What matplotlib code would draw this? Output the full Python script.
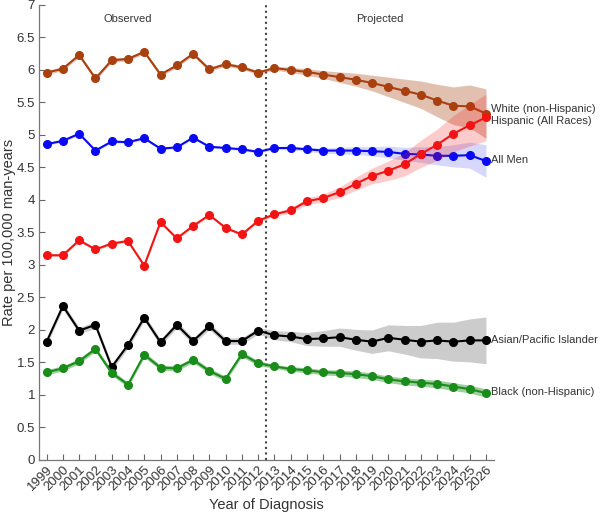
import numpy as np
from matplotlib import pyplot as plt

# Years of diagnosis (1999-2012 observed, 2013-2026 projected)
years = list(range(1999, 2027))

# Rates per 100,000 man-years
white = [5.96, 6.02, 6.23, 5.87, 6.15, 6.17, 6.28, 5.93, 6.07, 6.25, 6.01, 6.09, 6.04, 5.96,
         6.03, 6.00, 5.97, 5.93, 5.89, 5.85, 5.80, 5.74, 5.68, 5.62, 5.53, 5.45, 5.44, 5.33]
all_men = [4.86, 4.91, 5.02, 4.76, 4.90, 4.89, 4.95, 4.79, 4.81, 4.96, 4.82, 4.80, 4.78, 4.74,
           4.80, 4.80, 4.78, 4.76, 4.76, 4.76, 4.75, 4.74, 4.71, 4.70, 4.68, 4.68, 4.69, 4.60]
hispanic = [3.15, 3.15, 3.38, 3.24, 3.33, 3.37, 2.99, 3.66, 3.41, 3.60, 3.77, 3.57, 3.47, 3.68,
            3.78, 3.84, 3.98, 4.03, 4.12, 4.25, 4.37, 4.45, 4.55, 4.71, 4.85, 5.02, 5.15, 5.27]
asian = [1.82, 2.37, 1.99, 2.08, 1.43, 1.77, 2.19, 1.81, 2.08, 1.83, 2.06, 1.83, 1.83, 1.99,
         1.92, 1.90, 1.86, 1.87, 1.89, 1.85, 1.82, 1.88, 1.85, 1.82, 1.84, 1.82, 1.84, 1.84]
black = [1.35, 1.41, 1.52, 1.71, 1.34, 1.16, 1.62, 1.42, 1.41, 1.54, 1.37, 1.25, 1.63, 1.49,
         1.44, 1.40, 1.38, 1.35, 1.34, 1.32, 1.29, 1.24, 1.21, 1.19, 1.17, 1.13, 1.09, 1.03]

# Half-widths of the shaded bands
white_hw = [0.03] * 14 + [0.03, 0.04, 0.05, 0.06, 0.08, 0.10, 0.12, 0.15, 0.18, 0.21, 0.25, 0.29, 0.33, 0.38]
men_hw = [0.02] * 14 + [0.02, 0.03, 0.03, 0.04, 0.05, 0.06, 0.07, 0.09, 0.10, 0.12, 0.14, 0.17, 0.20, 0.25]
hisp_hw = [0.02] * 14 + [0.03, 0.04, 0.05, 0.06, 0.08, 0.10, 0.12, 0.15, 0.18, 0.21, 0.24, 0.28, 0.32, 0.36]
asian_hw = [0.05] * 14 + [0.07, 0.08, 0.10, 0.12, 0.14, 0.16, 0.18, 0.20, 0.22, 0.25, 0.28, 0.30, 0.33, 0.36]
black_hw = [0.04] * 14 + [0.03, 0.035, 0.04, 0.04, 0.045, 0.05, 0.05, 0.05, 0.055, 0.055, 0.06, 0.06, 0.06, 0.065]

labels = ['White (non-Hispanic)', 'All Men', 'Hispanic (All Races)', 'Asian/Pacific Islander',
          'Black (non-Hispanic)']
label_y = [5.40, 4.62, 5.22, 1.85, 1.04]

# Plot aspects
colors = ['#A8400F', '#0A0AF2', '#F21414', '#000000', '#1A8C1A']
band_alpha = [0.33, 0.16, 0.22, 0.2, 0.42]
text_color = '#333333'

plt.rcParams['font.family'] = ['Liberation Sans', 'DejaVu Sans']

fig = plt.figure(figsize=(6, 5.15), dpi=100)
ax = fig.add_axes([0.0655, 0.1068, 0.758, 0.8835])

series = [white, all_men, hispanic, asian, black]
half_widths = [white_hw, men_hw, hisp_hw, asian_hw, black_hw]
yrs = np.array(years)
for i, (vals, hw) in enumerate(zip(series, half_widths)):
    v = np.array(vals)
    h = np.array(hw)
    ax.fill_between(yrs, v - h, v + h, color=colors[i], alpha=band_alpha[i], linewidth=0,
                    zorder=2 + 2 * i)
    ax.plot(yrs, v, '-o', color=colors[i], markersize=5.5, linewidth=1.5, zorder=3 + 2 * i)
    ax.text(2026.3, label_y[i], labels[i], fontsize=8, color=text_color, va='center', ha='left',
            clip_on=False)

ax.axvline(2012.5, color='#444444', linestyle=':', linewidth=1.5, zorder=1)
ax.text(2004, 6.78, 'Observed', fontsize=8, color=text_color, ha='center', va='center')
ax.text(2019.5, 6.78, 'Projected', fontsize=8, color=text_color, ha='center', va='center')

ax.set_xlim(1998.55, 2026.5)
ax.set_ylim(0, 7)
ax.set_xticks(years)
ax.set_xticklabels([str(y) for y in years], rotation=45, ha='right', rotation_mode='anchor',
                   fontsize=9.5, color=text_color)
ax.set_yticks(np.arange(0, 7.01, 0.5))
ax.set_yticklabels(['0', '0.5', '1', '1.5', '2', '2.5', '3', '3.5', '4', '4.5', '5', '5.5', '6',
                    '6.5', '7'], fontsize=9.5, color=text_color)
ax.tick_params(direction='in', length=4, width=0.8, color='#666666', pad=3)
for side in ['top', 'right']:
    ax.spines[side].set_visible(False)
for side in ['left', 'bottom']:
    ax.spines[side].set_color('#777777')
    ax.spines[side].set_linewidth(0.9)

ax.set_xlabel('Year of Diagnosis', fontsize=10.5, color=text_color, labelpad=3)
ax.set_ylabel('Rate per 100,000 man-years', fontsize=10.5, color=text_color, labelpad=0.5)

fig.savefig('out.png', dpi=100)
